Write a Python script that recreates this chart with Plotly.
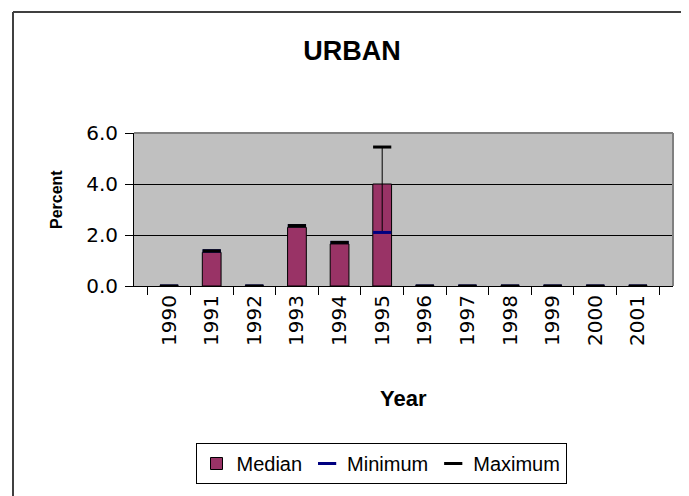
import plotly.graph_objects as go

years = ["1990", "1991", "1992", "1993", "1994", "1995",
         "1996", "1997", "1998", "1999", "2000", "2001"]
median = [0, 1.32, 0, 2.30, 1.65, 4.00, 0, 0, 0, 0, 0, 0]
minimum = [0, 1.38, 0, 2.37, 1.71, 2.10, 0, 0, 0, 0, 0, 0]
maximum = [0, 1.38, 0, 2.37, 1.71, 5.45, 0, 0, 0, 0, 0, 0]
y_ticks = [0, 2, 4, 6]

FONT = "Liberation Sans, Arial, sans-serif"
TICKFONT = "DejaVu Sans, sans-serif"

# high-low line segments between minimum and maximum
hl_x, hl_y = [], []
for yr, lo, hi in zip(years, minimum, maximum):
    if hi > lo:
        hl_x += [yr, yr, None]
        hl_y += [lo, hi, None]

fig = go.Figure()
fig.add_trace(go.Bar(
    x=years, y=median, name="Median", width=0.44,
    marker=dict(color="#993366", line=dict(color="black", width=1)),
))
fig.add_trace(go.Scatter(
    x=hl_x, y=hl_y, mode="lines", showlegend=False,
    line=dict(color="black", width=1), hoverinfo="skip",
))
fig.add_trace(go.Scatter(
    x=years, y=minimum, name="Minimum", mode="markers",
    marker=dict(symbol="line-ew", size=13, color="#000080",
                line=dict(color="#000080", width=3)),
))
fig.add_trace(go.Scatter(
    x=years, y=maximum, name="Maximum", mode="markers",
    marker=dict(symbol="line-ew", size=13, color="black",
                line=dict(color="black", width=3)),
))

# page offset (default body margin of the html page)
OFF = 8
W, H = 689 - OFF, 496 - OFF
# plot area in page pixels
PL, PR, PT, PB = 134, 673, 133, 286
L, T = PL - OFF, PT - OFF
R, B = W - (PR - OFF), H - (PB - OFF)
pw, ph = PR - PL, PB - PT


def px(x):
    return (x - PL) / pw


def py(y):
    return (PB - y) / ph


fig.update_layout(
    width=W, height=H,
    margin=dict(l=L, r=R, t=T, b=B, pad=0),
    paper_bgcolor="white",
    plot_bgcolor="#c0c0c0",
    font=dict(family=FONT, color="black", size=20),
    title=dict(text="<b>URBAN</b>", x=(352 - OFF) / W, y=1 - (51 - OFF) / H,
               xanchor="center", yanchor="middle",
               font=dict(family=FONT, size=27, color="black")),
    showlegend=True,
    legend=dict(orientation="h", x=px(381), y=py(443),
                xanchor="center", yanchor="top",
                bordercolor="black", borderwidth=1,
                font=dict(family=FONT, size=20), bgcolor="white",
                traceorder="normal"),
    xaxis=dict(type="category", categoryorder="array", categoryarray=years,
               tickangle=-90, ticks="outside", ticklen=8, tickcolor="black",
               tickson="boundaries", showline=True, linecolor="black",
               linewidth=1, showgrid=False,
               tickfont=dict(family=TICKFONT, size=20),
               fixedrange=True),
    yaxis=dict(range=[0, 6], tickvals=y_ticks, tickformat=".1f",
               ticks="outside", ticklen=8, tickcolor="black",
               ticklabelstandoff=3,
               showline=True, linecolor="black", linewidth=1,
               showgrid=True, gridcolor="black", gridwidth=1,
               zeroline=False, tickfont=dict(family=TICKFONT, size=20),
               fixedrange=True),
    annotations=[
        dict(text="<b>Year</b>", xref="paper", yref="paper",
             x=0.5, y=py(398), xanchor="center", yanchor="middle",
             showarrow=False, font=dict(family=FONT, size=22)),
        dict(text="<b>Percent</b>", xref="paper", yref="paper",
             x=px(56), y=py(200), xanchor="center", yanchor="middle",
             textangle=-90, showarrow=False, font=dict(family=FONT, size=16)),
    ],
    shapes=[
        # plot area top and right border (gray)
        dict(type="line", xref="paper", yref="paper", x0=0, x1=1, y0=1, y1=1,
             line=dict(color="#808080", width=2), layer="above"),
        dict(type="line", xref="paper", yref="paper", x0=1, x1=1, y0=0, y1=1,
             line=dict(color="#808080", width=2), layer="above"),
        # chart area border
        dict(type="line", xref="paper", yref="paper",
             x0=px(13), x1=px(13), y0=py(12), y1=py(520),
             line=dict(color="#404040", width=2)),
        dict(type="line", xref="paper", yref="paper",
             x0=px(13), x1=px(720), y0=py(12), y1=py(12),
             line=dict(color="#404040", width=2)),
    ],
)

fig.write_html("out.html")
